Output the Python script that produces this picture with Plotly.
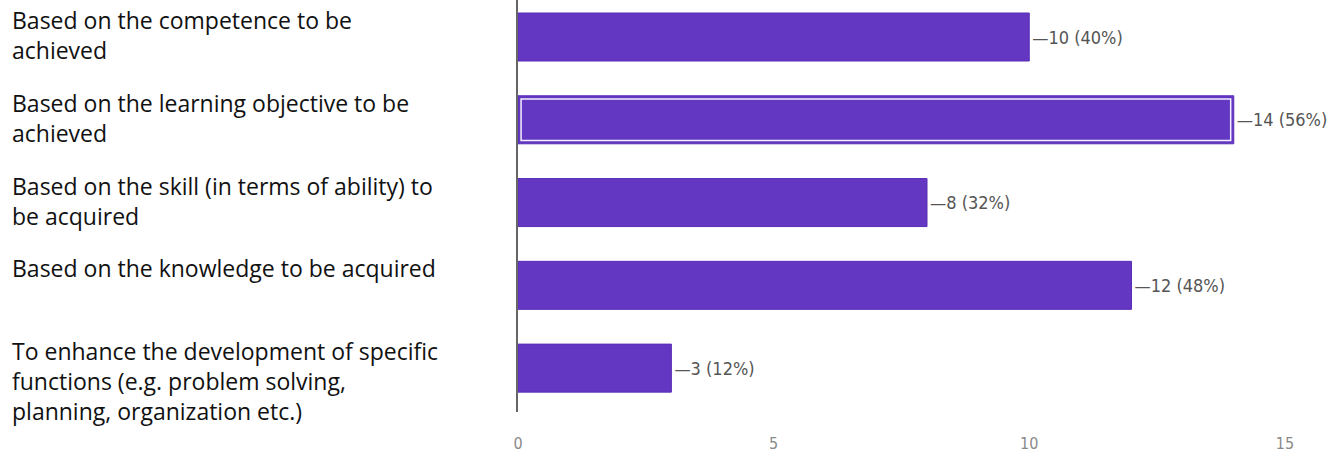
import plotly.graph_objects as go

categories = [
    "Based on the competence to be<br>achieved",
    "Based on the learning objective to be<br>achieved",
    "Based on the skill (in terms of ability) to<br>be acquired",
    "Based on the knowledge to be acquired",
    "To enhance the development of specific<br>functions (e.g. problem solving,<br>planning, organization etc.)",
]
counts = [10, 14, 8, 12, 3]
percents = [40, 56, 32, 48, 12]
tick_values = [0, 5, 10, 15]
tick_labels = ["0", "5", "10", "15"]
highlighted = 1

positions = list(range(len(categories)))
value_text = [f"\u2014{c} ({p}%)" for c, p in zip(counts, percents)]

fig = go.Figure()
fig.add_trace(go.Bar(
    x=counts,
    y=positions,
    orientation="h",
    width=0.58,
    marker=dict(color="#6337c2", line=dict(color="#5a2eb6", width=1)),
    text=value_text,
    textposition="outside",
    textfont=dict(family="Liberation Sans Narrow, DejaVu Sans Condensed, Liberation Sans", size=18, color="#555555"),
    cliponaxis=False,
    hoverinfo="skip",
))
# inner white outline on the highlighted bar
fig.add_trace(go.Bar(
    x=[counts[highlighted] - 0.12],
    base=[0.06],
    y=[positions[highlighted]],
    orientation="h",
    width=0.50,
    marker=dict(color="rgba(0,0,0,0)", line=dict(color="#f4f0ff", width=1.5)),
    hoverinfo="skip",
))

L, R, T, B = 518, 8, 0, 61
W, H = 1344, 473
plot_w = W - L - R

for i, cat in enumerate(categories):
    fig.add_annotation(
        x=(10 - L) / plot_w, xref="paper", xanchor="left",
        y=i, yref="y", yanchor="top", yshift=35,
        text=cat, showarrow=False, align="left",
        font=dict(family="Open Sans, Noto Sans, sans-serif", size=23, color="#111111"),
    )

fig.update_layout(
    width=W, height=H,
    margin=dict(l=L, r=R, t=T, b=B),
    paper_bgcolor="white", plot_bgcolor="white",
    showlegend=False,
    barmode="overlay",
    xaxis=dict(
        range=[0, 16], tickvals=tick_values, ticktext=tick_labels,
        showgrid=False, zeroline=False, showline=False,
        ticks="", ticklabelstandoff=20,
        tickfont=dict(family="Liberation Sans Narrow, DejaVu Sans Condensed, Liberation Sans", size=16, color="#8a8a8a"),
    ),
    yaxis=dict(
        range=[4.53, -0.447], showticklabels=False, showgrid=False,
        zeroline=False, showline=True, linecolor="#666666", linewidth=1.5,
        ticks="",
    ),
)

fig.write_html("out.html", config={"displayModeBar": False},
               post_script="document.body.style.margin='0';")
